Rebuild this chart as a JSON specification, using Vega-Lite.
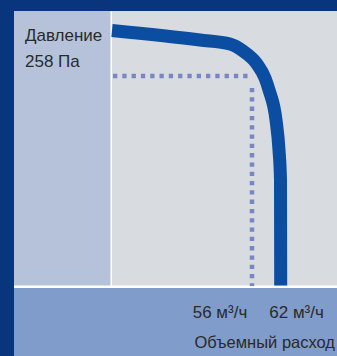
{
  "$schema": "https://vega.github.io/schema/vega-lite/v6.json",
  "width": 337,
  "height": 356,
  "autosize": {"type": "none"},
  "padding": 0,
  "background": "#08357c",
  "config": {"view": {"stroke": null}},
  "datasets": {
    "panels": [
      {"region": "divider", "x0": 6.76, "x1": 73.59, "p0": 337.48, "p1": -1.22},
      {"region": "label", "x0": 6.76, "x1": 26.72, "p0": 337.48, "p1": 1.83},
      {"region": "plot", "x0": 27.03, "x1": 73.59, "p0": 337.48, "p1": 1.83},
      {"region": "band", "x0": 6.76, "x1": 73.59, "p0": -1.22, "p1": -84.37}
    ],
    "curve": [
      {"i": 1, "flow": 27.034, "pressure": 313.64},
      {"i": 2, "flow": 45.241, "pressure": 302.02},
      {"i": 3, "flow": 51.448, "pressure": 297.13},
      {"i": 4, "flow": 54.138, "pressure": 288.57},
      {"i": 5, "flow": 57.034, "pressure": 272.67},
      {"i": 6, "flow": 58.69, "pressure": 255.55},
      {"i": 7, "flow": 59.517, "pressure": 240.88},
      {"i": 8, "flow": 60.965, "pressure": 204.2},
      {"i": 9, "flow": 61.586, "pressure": 167.52},
      {"i": 10, "flow": 61.896, "pressure": 130.83},
      {"i": 11, "flow": 61.938, "pressure": 1.83}
    ],
    "guide": [
      {"seg": "h", "i": 1, "flow": 27.24, "pressure": 258.0},
      {"seg": "h", "i": 2, "flow": 55.17, "pressure": 258.0},
      {"seg": "v", "i": 1, "flow": 56.0, "pressure": 243.33},
      {"seg": "v", "i": 2, "flow": 56.0, "pressure": 1.22}
    ],
    "labels": [
      {"text": "Давление", "flow": 9.034, "pressure": 300.8},
      {"text": "258 Па", "flow": 9.034, "pressure": 269.25},
      {"text": "56 м³/ч", "flow": 43.731, "pressure": -38.27},
      {"text": "62 м³/ч", "flow": 59.579, "pressure": -38.27}
    ],
    "title": [
      {"text": "Объемный расход", "flow": 73.17, "pressure": -74.95}
    ]
  },
  "layer": [
    {
      "data": {"name": "panels"},
      "mark": {"type": "rect"},
      "encoding": {
        "x": {"field": "x0", "type": "quantitative", "scale": {"domain": [3.862, 73.586], "nice": false, "zero": false}, "axis": null},
        "x2": {"field": "x1"},
        "y": {"field": "p0", "type": "quantitative", "scale": {"domain": [-84.37, 350.93], "nice": false, "zero": false}, "axis": null},
        "y2": {"field": "p1"},
        "color": {"field": "region", "type": "nominal", "scale": {"domain": ["divider", "label", "plot", "band"], "range": ["#ffffff", "#b5c2d9", "#d8dbe0", "#809ccb"]}, "legend": null}
      }
    },
    {
      "data": {"name": "guide"},
      "mark": {"type": "line", "color": "#7886c3", "strokeWidth": 4.5, "strokeDash": [4.3, 5], "strokeCap": "butt"},
      "encoding": {
        "x": {"field": "flow", "type": "quantitative", "scale": {"domain": [3.862, 73.586], "nice": false, "zero": false}, "axis": null},
        "y": {"field": "pressure", "type": "quantitative", "scale": {"domain": [-84.37, 350.93], "nice": false, "zero": false}, "axis": null},
        "detail": {"field": "seg", "type": "nominal"},
        "order": {"field": "i", "type": "quantitative"}
      }
    },
    {
      "data": {"name": "curve"},
      "mark": {"type": "line", "color": "#0b4ea1", "strokeWidth": 13, "strokeCap": "butt", "interpolate": "monotone"},
      "encoding": {
        "x": {"field": "flow", "type": "quantitative", "scale": {"domain": [3.862, 73.586], "nice": false, "zero": false}, "axis": null},
        "y": {"field": "pressure", "type": "quantitative", "scale": {"domain": [-84.37, 350.93], "nice": false, "zero": false}, "axis": null},
        "order": {"field": "i", "type": "quantitative"}
      }
    },
    {
      "data": {"name": "labels"},
      "mark": {"type": "text", "align": "left", "baseline": "alphabetic", "font": "Liberation Sans", "fontSize": 17, "color": "#2a2a2a"},
      "encoding": {
        "x": {"field": "flow", "type": "quantitative", "scale": {"domain": [3.862, 73.586], "nice": false, "zero": false}, "axis": null},
        "y": {"field": "pressure", "type": "quantitative", "scale": {"domain": [-84.37, 350.93], "nice": false, "zero": false}, "axis": null},
        "text": {"field": "text", "type": "nominal"}
      }
    },
    {
      "data": {"name": "title"},
      "mark": {"type": "text", "align": "right", "baseline": "alphabetic", "font": "Liberation Sans", "fontSize": 16.5, "color": "#2a2a2a"},
      "encoding": {
        "x": {"field": "flow", "type": "quantitative", "scale": {"domain": [3.862, 73.586], "nice": false, "zero": false}, "axis": null},
        "y": {"field": "pressure", "type": "quantitative", "scale": {"domain": [-84.37, 350.93], "nice": false, "zero": false}, "axis": null},
        "text": {"field": "text", "type": "nominal"}
      }
    }
  ]
}
